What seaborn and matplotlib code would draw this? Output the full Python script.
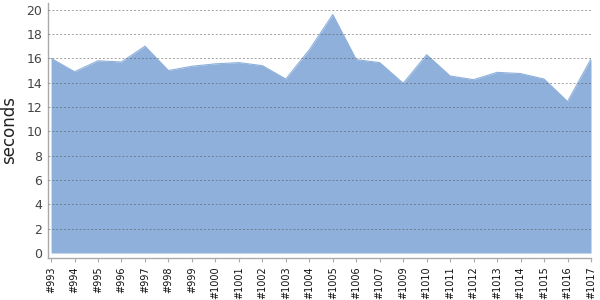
import matplotlib
matplotlib.use("Agg")
import matplotlib.pyplot as plt
import seaborn as sns
import numpy as np

builds = ["#993", "#994", "#995", "#996", "#997", "#998", "#999", "#1000", "#1001",
          "#1002", "#1003", "#1004", "#1005", "#1006", "#1007", "#1009", "#1010",
          "#1011", "#1012", "#1013", "#1014", "#1015", "#1016", "#1017"]
seconds = [16.0, 14.9, 15.8, 15.7, 17.0, 15.0, 15.35, 15.55, 15.65, 15.4, 14.3, 16.7,
           19.6, 15.9, 15.65, 13.95, 16.3, 14.55, 14.25, 14.85, 14.75, 14.3, 12.45, 15.95]
yticks = [0, 2, 4, 6, 8, 10, 12, 14, 16, 18, 20]

sns.set_style("white")
fig = plt.figure(figsize=(6, 3), dpi=100)
ax = fig.add_axes([48/600, 42/300, (591-48)/600, (297-42)/300])

idx = np.arange(len(builds))
color = "#8EB0DA"
ax.fill_between(idx, 0, seconds, color=color, linewidth=0, zorder=1)
sns.lineplot(x=idx, y=seconds, ax=ax, color=color, linewidth=0.8, zorder=2)

ax.set_xlim(-0.13, len(builds) - 1)
ax.set_ylim(-0.41, 20.55)
ax.set_xticks(idx)
ax.set_xticklabels(builds, rotation=90, fontsize=7, color="#111")
ax.set_yticks(yticks)
ax.set_yticklabels([str(v) for v in yticks], fontsize=9, color="#444")
ax.tick_params(axis="x", length=3, width=0.8, color="#aaa", pad=3, bottom=True)
ax.tick_params(axis="y", length=0, pad=4)

for y in yticks[1:]:
    ax.axhline(y, color="#555", alpha=0.55, linewidth=0.7, linestyle=(0, (2, 2)), zorder=3)

for s in ["top", "right"]:
    ax.spines[s].set_visible(False)
for s in ["left", "bottom"]:
    ax.spines[s].set_color("#aaa")
    ax.spines[s].set_linewidth(1.0)

ax.set_ylabel("seconds", fontsize=12, color="#222")
ax.yaxis.set_label_coords((18 - 48) / 543, 0.5)
ax.set_xlabel("")
fig.savefig("out.png", dpi=100)
